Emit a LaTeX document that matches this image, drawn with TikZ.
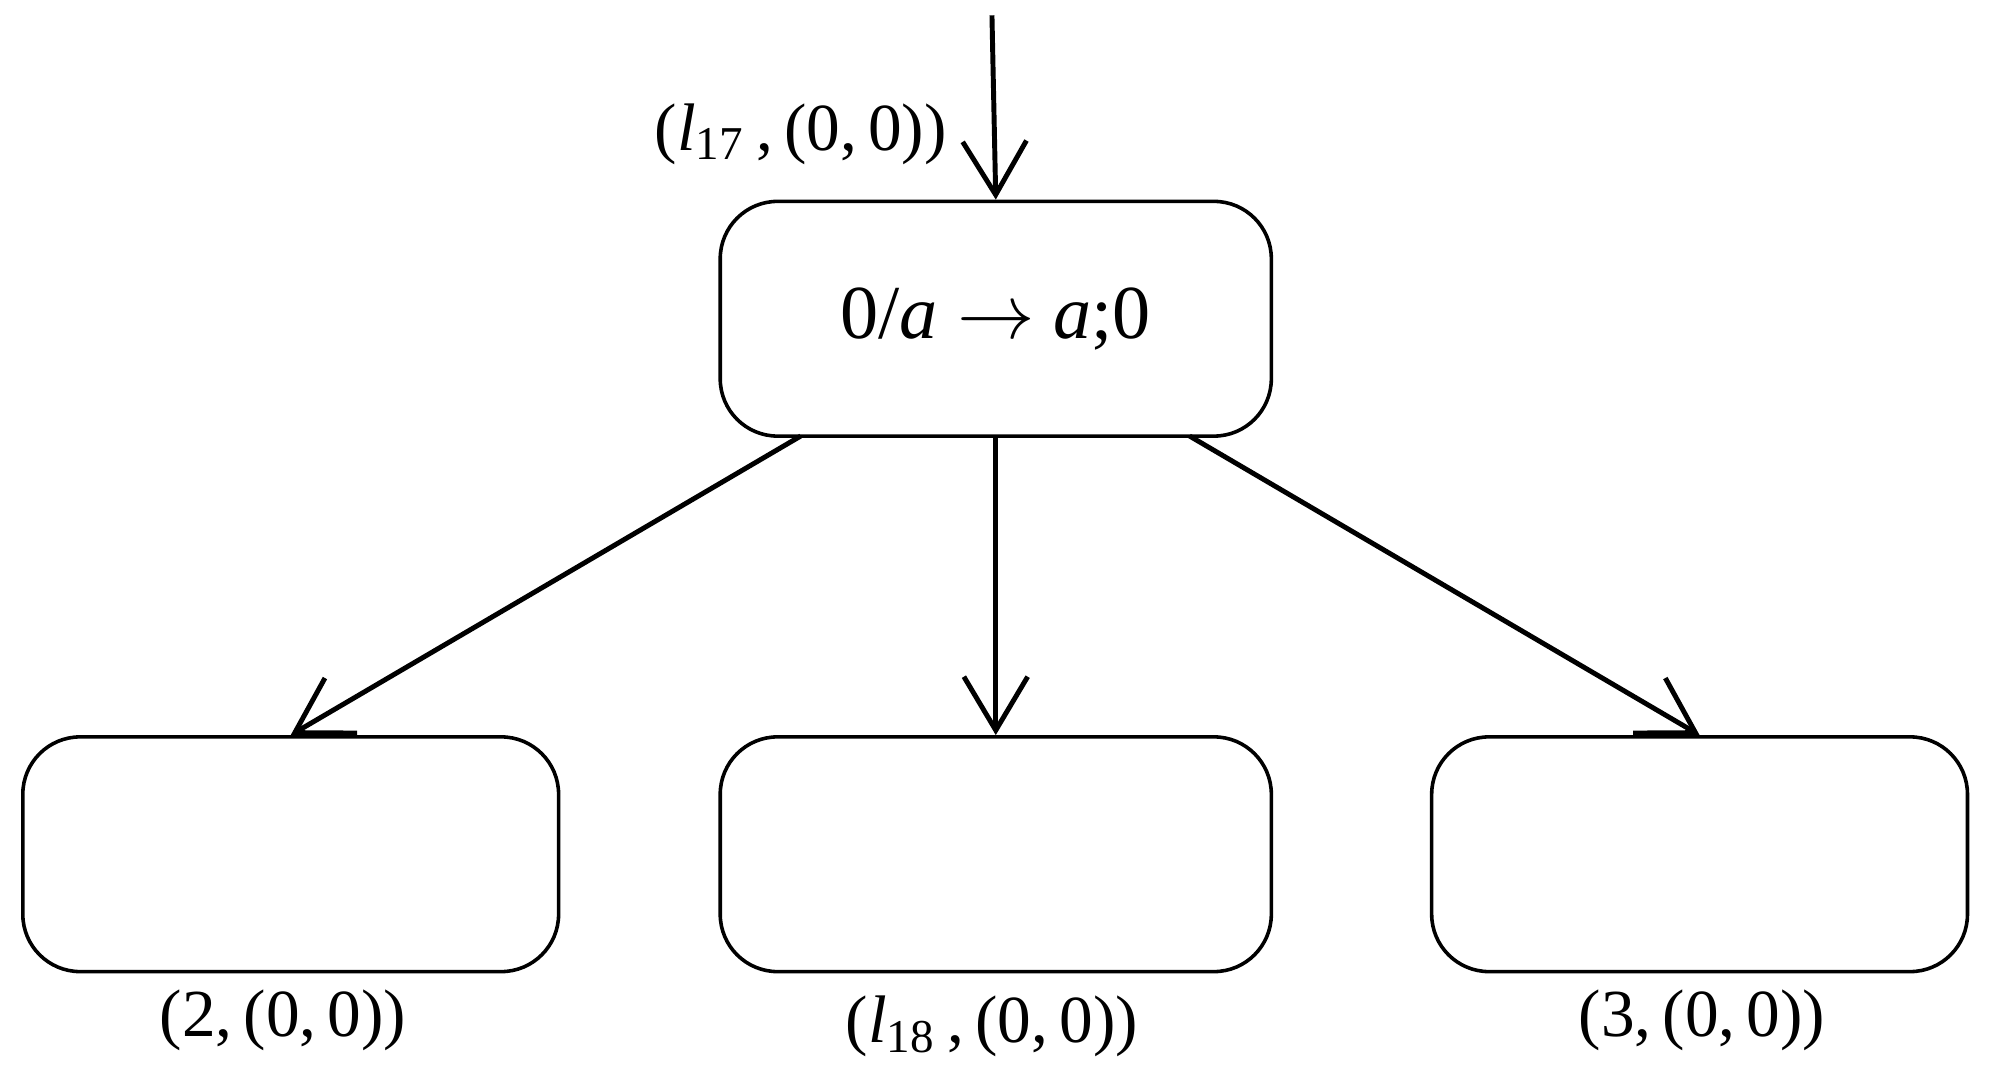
\documentclass[tikz,border=0pt]{standalone}
\usepackage{fontspec}
\setmainfont{Liberation Serif}
\usetikzlibrary{arrows.meta}
\begin{document}
\begin{tikzpicture}[x=0.01cm,y=-0.01cm,
  box/.style={draw,rounded corners=0.45cm,line width=0.8pt,minimum width=4.32cm,minimum height=1.84cm,inner sep=0},
  lab/.style={font=\fontsize{15}{17}\selectfont},
  arr/.style={line width=1.1pt,-{Straight Barb[length=0.42cm,width=0.5cm,line width=1.1pt]}}]
\useasboundingbox (0,0) rectangle (1560,846);
\node[box] (t) at (781,250) {\fontsize{17}{19}\selectfont 0/\textit{a} $\rightarrow$ \textit{a};0};
\node[box,minimum width=4.2cm] (l) at (228,670) {};
\node[box] (m) at (781,670) {};
\node[box,minimum width=4.2cm] (r) at (1333,670) {};
\coordinate (in) at (778,12);
\draw[arr] (in) -- (t.north);
\draw[arr] (628,342) -- (l.north);
\draw[arr] (t.south) -- (m.north);
\draw[arr] (933,342) -- (r.north);
\node[lab] (lt) at (628,105) {(\textit{l}\textsubscript{17}\,,\,(0,\,0))};
\node[lab] (ll) at (222,800) {(2,\,(0,\,0))};
\node[lab] (lm) at (778,805) {(\textit{l}\textsubscript{18}\,,\,(0,\,0))};
\node[lab] (lr) at (1335,800) {(3,\,(0,\,0))};
\end{tikzpicture}
\end{document}
